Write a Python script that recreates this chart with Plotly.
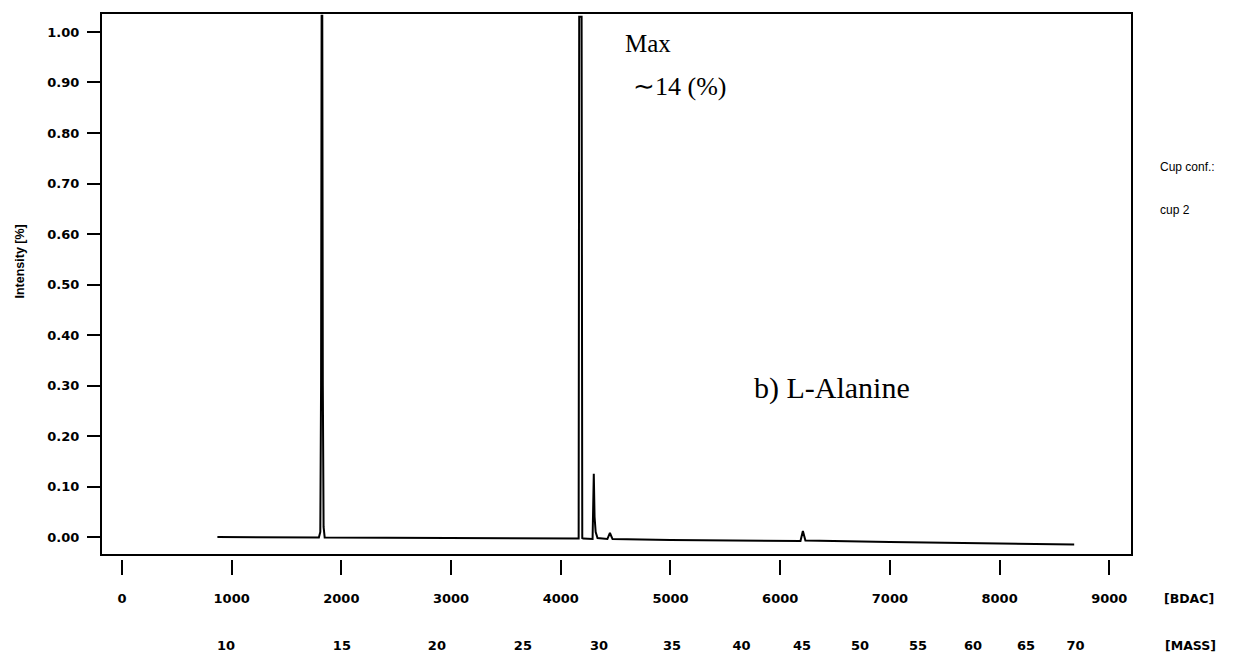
import plotly.graph_objects as go

# Spectrum trace (BDAC channel vs intensity)
bdac = [870, 1795, 1808, 1815, 1820, 1826, 1831, 1838, 1848,
        4155, 4163, 4168, 4190, 4196, 4205,
        4290, 4297, 4301, 4308, 4318, 4335,
        4425, 4448, 4472, 5000, 6000, 6185, 6207, 6230, 7000, 8000, 8680]
intensity = [0.000, -0.001, 0.010, 0.300, 1.032, 1.032, 0.300, 0.020, -0.001,
             -0.003, -0.003, 1.030, 1.030, -0.002, -0.003,
             -0.004, 0.125, 0.125, 0.040, 0.010, -0.002,
             -0.004, 0.008, -0.004, -0.006, -0.008, -0.008, 0.012, -0.007, -0.010, -0.013, -0.015]

bdac_ticks = [0, 1000, 2000, 3000, 4000, 5000, 6000, 7000, 8000, 9000]
mass_tick_pos = [948, 2005, 2871, 3655, 4348, 5014, 5647, 6199, 6727, 7256, 7757, 8241, 8693]
mass_tick_labels = ["10", "15", "20", "25", "30", "35", "40", "45", "50", "55", "60", "65", "70"]
y_ticks = [0.0, 0.1, 0.2, 0.3, 0.4, 0.5, 0.6, 0.7, 0.8, 0.9, 1.0]
y_tick_labels = ["%.2f" % v for v in y_ticks]

XR = [-191, 9207]
YR = [-0.0356, 1.0376]

tickfont = dict(family="DejaVu Sans", size=13, color="black", weight="bold")

fig = go.Figure()
fig.add_trace(go.Scatter(x=bdac, y=intensity, mode="lines",
                         line=dict(color="black", width=2), showlegend=False,
                         hoverinfo="skip"))
# invisible trace to activate the second x axis (MASS scale)
fig.add_trace(go.Scatter(x=[mass_tick_pos[0]], y=[0], xaxis="x2", mode="markers",
                         marker=dict(opacity=0), showlegend=False, hoverinfo="skip"))

fig.update_layout(
    width=1234, height=661,
    margin=dict(l=101, r=102, t=13, b=102, autoexpand=False),
    paper_bgcolor="white", plot_bgcolor="white",
    xaxis=dict(range=XR, tickvals=bdac_ticks, ticktext=[str(v) for v in bdac_ticks],
               anchor="free", position=0, showline=False, showgrid=False, zeroline=False,
               ticks="outside", ticklen=15, tickwidth=2, tickcolor="black",
               tickfont=tickfont, ticklabelstandoff=12, automargin=False),
    xaxis2=dict(range=XR, overlaying="x", anchor="free", position=0, side="bottom",
                tickvals=mass_tick_pos, ticktext=mass_tick_labels,
                showline=False, showgrid=False, zeroline=False,
                ticks="outside", ticklen=15, tickcolor="rgba(0,0,0,0)",
                tickfont=tickfont, ticklabelstandoff=59, automargin=False),
    yaxis=dict(range=YR, domain=[0.00733, 1], tickvals=y_ticks, ticktext=y_tick_labels,
               showline=False, showgrid=False, zeroline=False,
               ticks="outside", ticklen=13, tickwidth=2, tickcolor="black",
               tickfont=tickfont, ticklabelstandoff=5, automargin=False),
    shapes=[dict(type="rect", xref="x domain", yref="y domain", x0=0, x1=1, y0=0, y1=1,
                 line=dict(color="black", width=2), fillcolor="rgba(0,0,0,0)", layer="above")],
    annotations=[
        dict(text="Intensity [%]", xref="paper", yref="paper", x=-0.079, y=0.544,
             textangle=-90, showarrow=False, xanchor="center", yanchor="middle",
             font=dict(family="Liberation Sans", size=12.5, color="black", weight="bold")),
        dict(text="Max", xref="x", yref="y", x=4567, y=0.978, showarrow=False,
             xanchor="left", yanchor="middle",
             font=dict(family="Liberation Serif", size=25, color="black")),
        dict(text="∼14 (%)", xref="x", yref="y", x=4640, y=0.893, showarrow=False,
             xanchor="left", yanchor="middle",
             font=dict(family="Liberation Serif", size=26, color="black")),
        dict(text="b) L-Alanine", xref="x", yref="y", x=5743, y=0.295, showarrow=False,
             xanchor="left", yanchor="middle",
             font=dict(family="Liberation Serif", size=30, color="black")),
        dict(text="Cup conf.:", xref="paper", yref="paper", x=1.025, y=0.718,
             showarrow=False, xanchor="left", yanchor="middle",
             font=dict(family="Liberation Sans", size=12, color="black")),
        dict(text="cup 2", xref="paper", yref="paper", x=1.025, y=0.639,
             showarrow=False, xanchor="left", yanchor="middle",
             font=dict(family="Liberation Sans", size=12, color="black")),
        dict(text="[BDAC]", xref="paper", yref="paper", x=1.055, y=-0.072,
             showarrow=False, xanchor="center", yanchor="middle",
             font=dict(family="DejaVu Sans", size=12.5, color="black", weight="bold")),
        dict(text="[MASS]", xref="paper", yref="paper", x=1.057, y=-0.158,
             showarrow=False, xanchor="center", yanchor="middle",
             font=dict(family="DejaVu Sans", size=12.5, color="black", weight="bold")),
    ],
)

fig.write_html("out.html")
